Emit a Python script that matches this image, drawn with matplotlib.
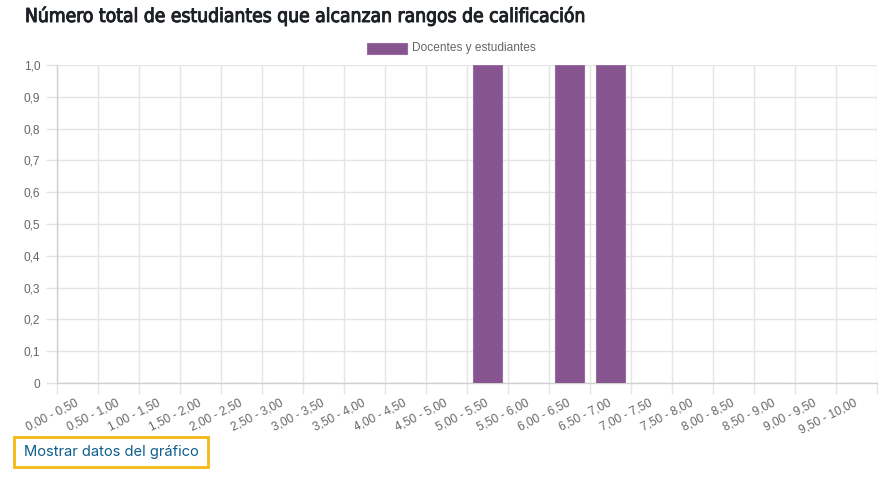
import numpy as np
import matplotlib
matplotlib.use('Agg')
import matplotlib.pyplot as plt
import matplotlib.transforms as mtransforms
import matplotlib.patheffects as pe
from matplotlib.ticker import FixedLocator, FuncFormatter
from matplotlib.patches import Rectangle

# rangos de calificacion y numero de estudiantes
rangos = ['0,00 - 0,50', '0,50 - 1,00', '1,00 - 1,50', '1,50 - 2,00',
          '2,00 - 2,50', '2,50 - 3,00', '3,00 - 3,50', '3,50 - 4,00',
          '4,00 - 4,50', '4,50 - 5,00', '5,00 - 5,50', '5,50 - 6,00',
          '6,00 - 6,50', '6,50 - 7,00', '7,00 - 7,50', '7,50 - 8,00',
          '8,00 - 8,50', '8,50 - 9,00', '9,00 - 9,50', '9,50 - 10,00']
estudiantes = [0, 0, 0, 0, 0, 0, 0, 0, 0, 0, 1, 0, 1, 1, 0, 0, 0, 0, 0, 0]
y_ticks = [0, 0.1, 0.2, 0.3, 0.4, 0.5, 0.6, 0.7, 0.8, 0.9, 1.0]

titulo = 'Número total de estudiantes que alcanzan rangos de calificación'
serie = 'Docentes y estudiantes'
boton = 'Mostrar datos del gráfico'

plt.rcParams['font.family'] = ['Liberation Sans', 'DejaVu Sans']

W, H = 895, 482
fig = plt.figure(figsize=(W / 100, H / 100), dpi=100)
ax = fig.add_axes([57 / W, 1 - 383 / H, (877 - 57) / W, (383 - 65) / H])

gris = '#e5e5e5'
x = np.arange(len(rangos))
ax.bar(x, estudiantes, width=0.72, color='#86548f', edgecolor='#9a6aa3',
       linewidth=0.8, zorder=3, label=serie)

ax.set_xlim(-0.5, len(rangos) - 0.5)
ax.set_ylim(0, 1.0)

# lineas de cuadricula en los limites de cada categoria (estilo Chart.js)
ax.xaxis.set_minor_locator(FixedLocator(np.arange(len(rangos) + 1) - 0.5))
ax.xaxis.set_major_locator(FixedLocator(x))
ax.set_xticklabels(rangos, rotation=27, ha='right', rotation_mode='anchor',
                   fontsize=8.6, color='#666666')
ax.tick_params(axis='x', which='major', length=0, pad=10)
ax.tick_params(axis='x', which='minor', length=8, color=gris, width=1)
ax.grid(True, which='minor', axis='x', color=gris, linewidth=1, zorder=0)
desplaza = mtransforms.ScaledTranslation(-3 / 100, 0, fig.dpi_scale_trans)
for lab in ax.get_xticklabels():
    lab.set_transform(lab.get_transform() + desplaza)

ax.set_yticks(y_ticks)
ax.yaxis.set_major_formatter(FuncFormatter(
    lambda v, p: '0' if v == 0 else ('%.1f' % v).replace('.', ',')))
ax.tick_params(axis='y', which='major', length=8, color=gris, width=1,
               labelsize=8.6, labelcolor='#666666', pad=4)
ax.grid(True, which='major', axis='y', color=gris, linewidth=1, zorder=0)

for s in ['top', 'right']:
    ax.spines[s].set_visible(False)
for s in ['left', 'bottom']:
    ax.spines[s].set_color('#d0d0d0')
    ax.spines[s].set_linewidth(1)

# leyenda
fig.patches.append(Rectangle((367 / W, 1 - 54 / H), 40 / W, 11 / H,
                             transform=fig.transFigure, facecolor='#86548f',
                             edgecolor='#9a6aa3', linewidth=0.8))
fig.text(412 / W, 1 - 48.5 / H, serie, fontsize=8.6, color='#666666',
         va='center', ha='left')

# titulo (trazo extra para imitar una fuente mas gruesa)
t = fig.text(25 / W, 1 - 16 / H, titulo, fontsize=13.8, color='#1d2125',
             va='center', ha='left', fontstretch='condensed',
             family=['DejaVu Sans'])
t.set_path_effects([pe.Stroke(linewidth=0.7, foreground='#1d2125'), pe.Normal()])

# boton
fig.patches.append(Rectangle((14 / W, 1 - 467 / H), 194 / W, 30 / H,
                             transform=fig.transFigure, facecolor='white',
                             edgecolor='#f5b914', linewidth=2))
fig.text(24 / W, 1 - 452 / H, boton, fontsize=10.6, color='#0f5e8c',
         va='center', ha='left', family=['Inter', 'DejaVu Sans'])

fig.savefig('out.png', dpi=100)
